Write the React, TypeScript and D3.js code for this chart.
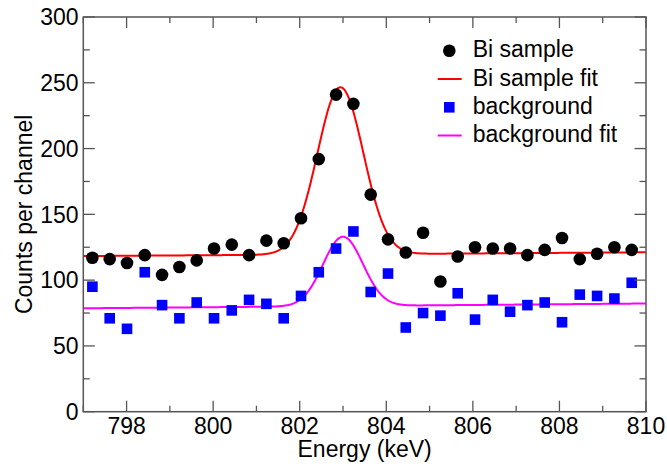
import React from "react";
import * as d3 from "d3";

const energies = [
  797.21, 797.61, 798.01, 798.42, 798.82, 799.22, 799.62, 800.02, 800.43, 800.83,
  801.23, 801.63, 802.03, 802.44, 802.84, 803.24, 803.64, 804.04, 804.45, 804.85,
  805.25, 805.65, 806.05, 806.46, 806.86, 807.26, 807.66, 808.06, 808.47, 808.87,
  809.27, 809.67,
];
const biSample = [
  117, 116, 113, 119, 104, 110, 115, 124, 127, 119,
  130, 128, 147, 192, 241, 234, 165, 131, 121, 136,
  99, 118, 125, 124, 124, 119, 123, 132, 116, 120,
  125, 123,
];
const background = [
  95, 71, 63, 106, 81, 71, 83, 71, 77, 85,
  82, 71, 88, 106, 124, 137, 91, 105, 64, 75,
  73, 90, 70, 85, 76, 81, 83, 68, 89, 88,
  86, 98,
];
// Gaussian + linear background fit parameters [baseline@797, slope, amplitude, center, sigma]
const biFitParams = [118.3, 0.22, 127, 802.94, 0.53];
const bgFitParams = [78.6, 0.28, 52.7, 803.0, 0.46];

const xTicks = [798, 800, 802, 804, 806, 808, 810];
const yTicks = [0, 50, 100, 150, 200, 250, 300];
const legendLabels = ["Bi sample", "Bi sample fit", "background", "background fit"];

const W = 667, H = 464;
const L = 83.3, R = 646, T = 17, B = 411.7;
const FONT = "'Liberation Sans', Arial, Helvetica, sans-serif";

function fitValue(p: number[], e: number) {
  const [b0, s, a, c, sg] = p;
  return b0 + s * (e - 797) + a * Math.exp(-((e - c) ** 2) / (2 * sg * sg));
}

export default function App() {
  const x = d3.scaleLinear().domain([797, 810]).range([L, R]);
  const y = d3.scaleLinear().domain([0, 300]).range([B, T]);
  const fine = d3.range(797, 810.0001, 0.02);
  const line = d3
    .line<number>()
    .x((e) => x(e))
    .y((e) => y(0))
    .curve(d3.curveLinear);
  const biPath = d3.line<number>().x((e) => x(e)).y((e) => y(fitValue(biFitParams, e)))(fine) || "";
  const bgPath = d3.line<number>().x((e) => x(e)).y((e) => y(fitValue(bgFitParams, e)))(fine) || "";
  void line;

  const xMinor = d3.range(797, 811, 1);
  const yMinor = d3.range(0, 301, 25);
  const axisColor = "#555";

  const lx = 449.3;
  const tx = 472.7;
  const rows = [50.7, 79.0, 107.3, 135.5];

  return (
    <svg
      width={W}
      height={H}
      style={{ position: "fixed", left: 0, top: 0, background: "#fff" }}
      fontFamily={FONT}
    >
      <rect width={W} height={H} fill="#fff" />
      {/* curves */}
      <path d={biPath} fill="none" stroke="#ff0000" strokeWidth={2} />
      <path d={bgPath} fill="none" stroke="#ff00ff" strokeWidth={2} />
      {/* points */}
      {energies.map((e, i) => (
        <circle key={"b" + i} cx={x(e)} cy={y(biSample[i])} r={6.3} fill="#000" />
      ))}
      {energies.map((e, i) => (
        <rect
          key={"g" + i}
          x={x(e) - 5.3}
          y={y(background[i]) - 5.3}
          width={10.6}
          height={10.6}
          fill="#0000ff"
        />
      ))}
      {/* ticks */}
      {xMinor.map((v) => {
        const major = v % 2 === 0;
        const len = major ? 11 : 6;
        return (
          <g key={"xt" + v} stroke={axisColor} strokeWidth={1.3}>
            <line x1={x(v)} x2={x(v)} y1={B} y2={B - len} />
            <line x1={x(v)} x2={x(v)} y1={T} y2={T + len} />
          </g>
        );
      })}
      {yMinor.map((v) => {
        const major = v % 50 === 0;
        const len = major ? 11.5 : 6.5;
        return (
          <g key={"yt" + v} stroke={axisColor} strokeWidth={1.3}>
            <line x1={L} x2={L + len} y1={y(v)} y2={y(v)} />
            <line x1={R} x2={R - len} y1={y(v)} y2={y(v)} />
          </g>
        );
      })}
      <rect x={L} y={T} width={R - L} height={B - T} fill="none" stroke={axisColor} strokeWidth={1.5} />
      {/* tick labels */}
      {xTicks.map((v) => (
        <text key={"xl" + v} x={x(v)} y={434} textAnchor="middle" fontSize={23} fill="#000">
          {v}
        </text>
      ))}
      {yTicks.map((v) => (
        <text key={"yl" + v} x={78.5} y={y(v) + 8.3} textAnchor="end" fontSize={23} fill="#000">
          {v}
        </text>
      ))}
      {/* axis titles */}
      <text x={(L + R) / 2} y={456.5} textAnchor="middle" fontSize={23} fill="#000">
        Energy (keV)
      </text>
      <text
        transform={`translate(32,${(T + B) / 2}) rotate(-90)`}
        textAnchor="middle"
        fontSize={23}
        fill="#000"
      >
        Counts per channel
      </text>
      {/* legend */}
      <circle cx={lx} cy={rows[0]} r={6.3} fill="#000" />
      <line x1={437.7} x2={461.7} y1={rows[1]} y2={rows[1]} stroke="#ff0000" strokeWidth={2} />
      <rect x={lx - 5.3} y={rows[2] - 5.3} width={10.6} height={10.6} fill="#0000ff" />
      <line x1={437.7} x2={461.7} y1={rows[3]} y2={rows[3]} stroke="#ff00ff" strokeWidth={2} />
      {legendLabels.map((t, i) => (
        <text key={t} x={tx} y={rows[i] + 6.7} fontSize={23} fill="#000">
          {t}
        </text>
      ))}
    </svg>
  );
}
